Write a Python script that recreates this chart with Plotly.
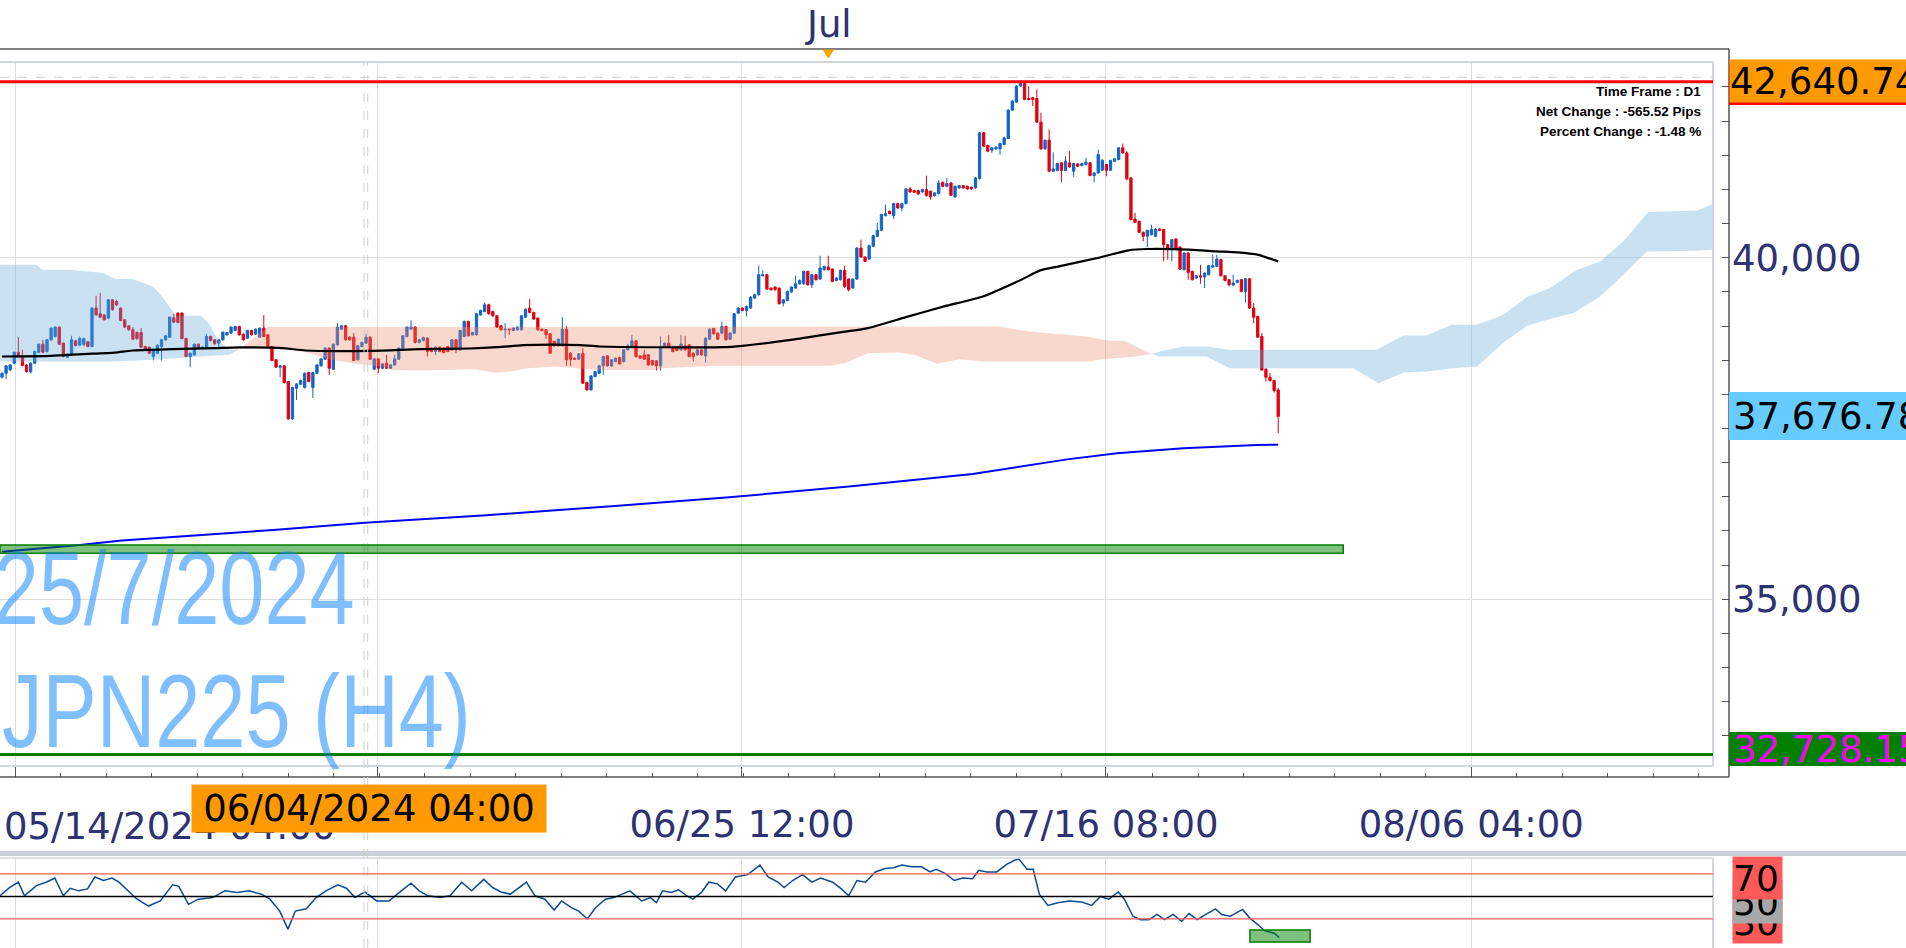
import json
import plotly.graph_objects as go

W, H = 1906, 948
def xp(px): return px / W
def yp(py): return 1 - py / H

# ---------------- data ----------------
open_ = [
38251, 38309, 38358, 38456, 38617, 38554, 38431, 38329, 38456, 38617,
38734, 38627, 38798, 38847, 38984, 38749, 38544, 38578, 38783, 38720,
38725, 38769, 38700, 39262, 39179, 39160, 39116, 39384, 39360, 39262,
39091, 39003, 38945, 38905, 38905, 38700, 38690, 38554, 38602, 38700,
38798, 38837, 39120, 39189, 39189, 38817, 38554, 38578, 38734, 38676,
38690, 38847, 38798, 38749, 38798, 38871, 38896, 38935, 38994, 38881,
38822, 38935, 38881, 38837, 38969, 38871, 38700, 38505, 38397, 38417,
38187, 37640, 38089, 38148, 38099, 38319, 38099, 38309, 38417, 38514,
38676, 38368, 38725, 38954, 39003, 38837, 38837, 38505, 38700, 38749,
38837, 38368, 38519, 38382, 38456, 38382, 38431, 38514, 38676, 38847,
38954, 38984, 38759, 38788, 38822, 38676, 38627, 38690, 38676, 38700,
38651, 38798, 38651, 38847, 39067, 38871, 38871, 39164, 39213, 39311,
39213, 39150, 39003, 38945, 38954, 38935, 38945, 38945, 39130, 39262,
39199, 39116, 38954, 38945, 38886, 38773, 38710, 38710, 38954, 38602,
38529, 38514, 38602, 38172, 38065, 38260, 38309,
38417, 38563, 38417, 38480, 38539, 38480, 38651, 38690, 38783, 38563,
38578, 38578, 38495, 38490, 38417, 38690, 38749, 38690, 38690, 38651,
38710, 38724, 38602, 38578, 38651, 38563, 38808, 38964, 38896, 38896,
38993, 38808, 38896, 39189, 39262, 39228, 39262, 39409, 39458, 39736,
39751, 39555, 39570, 39555, 39335, 39375, 39497, 39555, 39619, 39619,
39800, 39604, 39751, 39687, 39824, 39863, 39834, 39668, 39678, 39814,
39687, 39555, 39687, 40142, 40010, 39980, 40166, 40313, 40401, 40616,
40679, 40616, 40792, 40728, 40792, 41007, 40982, 40982, 40963, 40997,
40973, 40909, 40938, 41104, 41045, 41094, 40890, 41021, 41055, 41045,
41031, 41021, 41158, 41828, 41642, 41574, 41593, 41593, 41657, 41745,
42160, 42277, 42512, 42551, 42331, 42341, 42331, 41984, 41593, 41720,
41266, 41276, 41388, 41276, 41388, 41266, 41373, 41349, 41364, 41388,
41202, 41241, 41280, 41364, 41280, 41412, 41437, 41608, 41534, 41168,
40567, 40533, 40372, 40313, 40337, 40313, 40420, 40411, 40191, 40127,
40274, 40156, 39824, 40068, 39800, 39702,
39736, 39717, 39751, 39863, 39873, 39971, 39736, 39678, 39599, 39639,
39678, 39507, 39692, 39262, 39140, 38847, 38368, 38251, 38202, 38065,
]
high = [
38319, 38430, 38440, 38625, 38837, 38651, 38440, 38470, 38640, 38745,
38798, 38810, 38980, 38995, 38995, 38760, 38600, 38857, 38800, 38847,
38830, 38785, 39275, 39443, 39482, 39175, 39395, 39395, 39384, 39275,
39100, 39015, 38984, 38920, 38969, 38710, 38700, 38660, 38730, 38810,
38870, 39140, 39179, 39200, 39200, 38830, 38615, 38745, 38745, 38700,
38886, 38860, 38810, 38810, 38920, 38915, 38995, 39005, 39005, 38890,
38945, 38945, 38965, 38980, 39160, 38880, 38710, 38515, 38425, 38425,
38195, 38110, 38165, 38215, 38320, 38330, 38330, 38440, 38530, 38690,
38690, 38745, 39042, 39015, 39015, 38850, 38896, 38720, 38770, 38886,
38850, 38530, 38530, 38455, 38578, 38440, 38578, 38690, 38870, 38995,
39081, 38995, 38810, 38845, 38835, 38690, 38700, 38700, 38690, 38710,
38810, 38810, 38945, 39080, 39080, 38915, 39190, 39240, 39345, 39325,
39225, 39160, 39015, 39042, 38965, 38980, 38995, 39160, 39260, 39394,
39210, 39125, 38965, 38955, 38895, 38785, 38820, 39130, 39003, 38615,
38540, 38605, 38676, 38185, 38280, 38345, 38430,
38565, 38575, 38515, 38540, 38550, 38660, 38739, 38871, 38795, 38575,
38651, 38590, 38505, 38500, 38847, 38760, 38866, 38700, 38700, 38871,
38857, 38735, 38615, 38660, 38660, 38835, 38965, 38975, 38905, 39067,
39005, 38905, 39190, 39275, 39275, 39300, 39435, 39470, 39883, 39814,
39765, 39565, 39580, 39565, 39395, 39520, 39580, 39736, 39680, 39810,
39810, 39760, 39760, 40029, 39885, 40029, 39845, 39715, 39825, 39883,
39700, 39700, 40155, 40264, 40020, 40190, 40335, 40508, 40645, 40777,
40690, 40805, 40805, 40805, 41020, 41036, 40995, 40995, 41010, 41201,
40985, 40960, 41134, 41115, 41168, 41105, 41055, 41065, 41065, 41055,
41040, 41180, 41840, 41840, 41655, 41620, 41630, 41685, 41765, 42175,
42305, 42525, 42576, 42576, 42512, 42355, 42463, 42121, 41730, 41877,
41544, 41390, 41400, 41486, 41559, 41390, 41385, 41390, 41461, 41400,
41250, 41583, 41440, 41375, 41435, 41460, 41620, 41671, 41559, 41180,
40655, 40545, 40385, 40410, 40484, 40430, 40430, 40420, 40200, 40275,
40285, 40165, 40080, 40080, 39810, 39745,
39897, 39785, 39895, 40044, 40044, 39985, 39745, 39690, 39751, 39680,
39690, 39705, 39705, 39335, 39150, 38896, 38380, 38312, 38215, 38090,
]
low = [
38231, 38220, 38340, 38440, 38540, 38410, 38319, 38309, 38445, 38600,
38600, 38610, 38785, 38830, 38720, 38540, 38530, 38565, 38700, 38705,
38710, 38690, 38690, 39150, 39115, 39080, 39100, 39225, 39290, 39070,
38970, 38930, 38795, 38800, 38675, 38640, 38590, 38495, 38590, 38495,
38785, 38825, 39045, 39040, 38805, 38544, 38397, 38565, 38665, 38665,
38680, 38775, 38725, 38676, 38785, 38860, 38885, 38925, 38860, 38785,
38810, 38860, 38870, 38825, 38835, 38690, 38485, 38385, 38251, 38160,
37630, 37630, 37918, 38135, 38085, 38175, 37946, 38295, 38405, 38505,
38285, 38355, 38715, 38940, 38785, 38785, 38485, 38495, 38690, 38740,
38505, 38355, 38309, 38370, 38370, 38370, 38420, 38505, 38665, 38835,
38945, 38745, 38745, 38775, 38554, 38615, 38578, 38615, 38600, 38615,
38640, 38602, 38640, 38835, 38845, 38860, 38860, 39150, 39200, 39165,
39135, 38970, 38930, 38822, 38871, 38925, 38930, 38935, 39120, 39185,
39090, 38930, 38920, 38808, 38590, 38700, 38700, 38700, 38417, 38417,
38505, 38505, 38150, 38055, 38055, 38250, 38300,
38285, 38405, 38405, 38470, 38435, 38470, 38640, 38680, 38540, 38515,
38505, 38420, 38420, 38348, 38348, 38680, 38680, 38615, 38630, 38640,
38640, 38540, 38480, 38565, 38565, 38466, 38795, 38875, 38795, 38885,
38785, 38795, 38885, 39175, 39215, 39140, 39250, 39395, 39445, 39725,
39530, 39520, 39520, 39315, 39287, 39365, 39485, 39545, 39605, 39605,
39590, 39555, 39665, 39675, 39810, 39810, 39640, 39655, 39665, 39555,
39507, 39545, 39675, 40000, 39935, 39970, 40155, 40300, 40390, 40605,
40635, 40567, 40715, 40679, 40780, 40950, 40945, 40920, 40950, 40895,
40850, 40895, 40925, 41030, 41030, 40900, 40875, 41010, 41010, 40995,
40995, 41010, 41145, 41620, 41545, 41534, 41580, 41510, 41645, 41735,
42150, 42265, 42500, 42305, 42300, 42219, 41970, 41580, 41580, 41255,
41255, 41265, 41104, 41265, 41315, 41183, 41325, 41335, 41350, 41190,
41104, 41230, 41270, 41193, 41270, 41400, 41425, 41520, 41134, 40545,
40505, 40360, 40240, 40156, 40325, 40300, 40390, 39946, 39971, 39946,
40115, 39820, 39810, 39678, 39665, 39690,
39619, 39555, 39740, 39850, 39860, 39725, 39655, 39580, 39585, 39625,
39495, 39345, 39250, 39042, 38825, 38345, 38187, 38190, 38025, 37430,
]
close = [
38309, 38417, 38431, 38617, 38554, 38422, 38334, 38456, 38627, 38734,
38617, 38798, 38969, 38984, 38734, 38554, 38588, 38798, 38715, 38817,
38817, 38700, 39262, 39164, 39130, 39091, 39384, 39238, 39311, 39081,
38984, 38945, 38808, 38813, 38690, 38651, 38602, 38651, 38720, 38798,
38857, 39130, 39057, 39052, 38817, 38554, 38602, 38734, 38676, 38690,
38847, 38788, 38739, 38798, 38910, 38905, 38984, 38994, 38871, 38798,
38935, 38871, 38954, 38969, 38847, 38700, 38495, 38397, 38417, 38172,
37640, 38099, 38153, 38202, 38309, 38187, 38319, 38431, 38519, 38676,
38382, 38734, 38984, 39003, 38798, 38798, 38495, 38710, 38759, 38837,
38514, 38519, 38382, 38446, 38382, 38431, 38519, 38676, 38857, 38984,
38984, 38759, 38798, 38832, 38627, 38627, 38690, 38627, 38612, 38627,
38798, 38651, 38935, 39067, 38857, 38905, 39179, 39228, 39311, 39179,
39150, 38984, 38945, 38954, 38945, 38969, 38984, 39150, 39247, 39199,
39101, 38945, 38935, 38871, 38602, 38710, 38808, 38954, 38505, 38514,
38514, 38593, 38163, 38065, 38270, 38334, 38417,
38553, 38417, 38505, 38529, 38446, 38651, 38710, 38783, 38553, 38529,
38515, 38431, 38431, 38417, 38690, 38749, 38690, 38627, 38642, 38734,
38651, 38553, 38553, 38651, 38578, 38822, 38954, 38886, 38808, 38993,
38798, 38896, 39179, 39262, 39228, 39287, 39424, 39458, 39751, 39751,
39541, 39531, 39531, 39326, 39384, 39507, 39570, 39619, 39668, 39800,
39604, 39751, 39678, 39849, 39873, 39824, 39653, 39702, 39814, 39580,
39531, 39687, 40142, 40010, 39946, 40176, 40323, 40401, 40631, 40645,
40645, 40792, 40728, 40792, 41007, 40963, 40958, 40933, 40997, 40909,
40890, 40948, 41094, 41045, 41085, 40914, 41045, 41055, 41021, 41007,
41007, 41168, 41828, 41632, 41559, 41608, 41618, 41671, 41755, 42160,
42292, 42512, 42551, 42317, 42317, 42317, 41984, 41593, 41720, 41266,
41300, 41378, 41276, 41412, 41329, 41378, 41339, 41378, 41398, 41202,
41241, 41510, 41427, 41280, 41422, 41447, 41608, 41534, 41154, 40557,
40518, 40372, 40313, 40401, 40411, 40420, 40401, 40191, 40127, 40264,
40127, 39834, 40068, 39785, 39678, 39736,
39717, 39775, 39883, 39883, 39980, 39736, 39668, 39604, 39629, 39668,
39507, 39692, 39262, 39130, 38837, 38358, 38251, 38202, 38055, 37676.78,
]
bar_index = list(range(len(close)))

# moving averages (bar position, price)
ma_black_x = [0, 12, 19.6, 27.6, 31.8, 41.6, 52, 58, 68.7, 74.2, 90.3, 102.3, 114.4, 121.1, 127.4,
              134.4, 141.4, 146.2, 176.2, 181, 192.9, 202.4, 211.7, 221, 230.3, 239.8, 249.2,
              253.8, 258.4, 267.8, 275.4, 279.9, 290.2, 297, 302, 306.9, 312]
ma_black_y = [38554, 38563, 38588, 38612, 38642, 38661, 38676, 38686, 38676, 38642, 38637, 38661,
              38671, 38690, 38720, 38729, 38720, 38700, 38690, 38710, 38798, 38886, 38969, 39130,
              39287, 39433, 39678, 39814, 39873, 39995, 40108, 40127, 40118, 40093, 40078, 40044, 39946]
ma_blue_x = [0, 19, 29.3, 66.3, 88.7, 118.4, 148.2, 177.8, 207.7, 237.3, 260.4, 272.6, 288.8, 306.8, 312]
ma_blue_y = [35697, 35795, 35860, 36014, 36120, 36230, 36360, 36493, 36655, 36834, 37048, 37136,
             37210, 37259, 37262]

# ichimoku cloud edges
cloud1_top_x = [-0.5, 8.4, 9.8, 16.4, 24.8, 27.6, 31.8, 36.9, 38.8, 41.6, 42.5, 48.6, 50.5, 52.8, 55.6, 58]
cloud1_top_y = [39897, 39897, 39824, 39824, 39775, 39687, 39687, 39580, 39458, 39238, 39150, 39150,
                39042, 38798, 38651, 38660]
cloud1_bot_x = [-0.5, 27.6, 36.9, 42.5, 48.6, 55.6, 58]
cloud1_bot_y = [38480, 38480, 38505, 38529, 38554, 38578, 38660]
salmon_top_x = [58, 65, 243.5, 251, 265, 270.7, 274.4, 281]
salmon_top_y = [38660, 38984, 38993, 38920, 38847, 38783, 38783, 38590]
salmon_bot_x = [58, 65, 70.6, 74.4, 80, 86.5, 93.1, 95, 102.4, 115.6, 120.2, 124, 128.6, 135.2, 141.7,
                146.2, 160.2, 161.2, 174.3, 202.3, 206.1, 211.7, 219.2, 222.9, 228.6, 234.2, 239.8,
                266, 267.8, 277.2, 281]
salmon_bot_y = [38660, 38676, 38651, 38612, 38514, 38446, 38407, 38358, 38348, 38368, 38319, 38329,
                38382, 38407, 38382, 38358, 38358, 38383, 38417, 38417, 38459, 38602, 38612, 38578,
                38446, 38515, 38480, 38480, 38505, 38553, 38590]
cloud2_top_x = [281, 283.1, 288.8, 294.5, 300.2, 336.1, 342.6, 348.3, 354.4, 360.6, 367.1, 372.8,
                378.5, 384.6, 390.7, 396.4, 402.5, 414.4, 418.4]
cloud2_top_y = [38590, 38627, 38700, 38700, 38651, 38651, 38861, 38861, 39018, 39018, 39164, 39424,
                39556, 39809, 39946, 40239, 40670, 40690, 40791]
cloud2_bot_x = [281, 283.1, 294.5, 300.2, 330.4, 336.5, 342.6, 348.3, 354.8, 360.6, 367.1, 372.8,
                379.3, 384.2, 390.7, 396.4, 402.1, 414.4, 418.4]
cloud2_bot_y = [38590, 38553, 38553, 38383, 38383, 38163, 38319, 38333, 38383, 38407, 38759, 39003,
                39116, 39189, 39433, 39751, 40092, 40100, 40117]

# RSI (bar position, value)
rsi_x = [-0.5, 1.9, 4, 5.5, 8.4, 10.8, 12.9, 15, 16.7, 18.8, 20.9, 22.7, 24.8, 26.9, 28.6, 30.7, 32.8,
         35.8, 38.7, 41.7, 43.2, 45.6, 48, 51.5, 54.5, 57.5, 60.4, 63.4, 65.5, 67.9, 69.9, 71.7, 74.4,
         76.8, 79.2, 82.1, 84.2, 86.3, 88.7, 91.6, 94.6, 97.6, 100, 102, 104.1, 107.1, 109.5, 112.4,
         114.8, 117.8, 119.9, 122, 124.3, 128.2, 130.3, 132.7, 135, 136.8, 139.2, 141, 143.1, 145.1,
         147.5, 149.6, 151.7, 153.5, 156.4, 158.5, 160, 161.5, 163.6, 165.4, 167.4, 168.9, 171, 172.8,
         174.9, 176.9, 179.3, 182.3, 185.3, 187.3, 189.7, 191.2, 193.3, 195.7, 198, 200.1, 203.1,
         205.2, 207, 209, 211.1, 213.5, 215.9, 218, 220, 222.4, 224.8, 226.9, 228.4, 230.7, 232.8,
         234.9, 237.3, 238.8, 240.8, 243.2, 245.6, 247.7, 248.6, 250.6, 252.1, 253.6, 255.7, 258.1,
         261, 264, 266.4, 268.5, 270.6, 272.9, 274.4, 276.5, 278.3, 280.4, 282.4, 284.2, 286.3, 288.4,
         290.2, 292.2, 294.3, 296.7, 298.2, 300.3, 303.3, 305, 307.1, 308.6, 311, 312.2]
rsi_y = [50.6, 58, 62.7, 50.6, 59.7, 62.7, 66.4, 50.6, 57.3, 55, 56.7, 67.3, 64.2, 66.4, 62.7, 55, 48.2,
         41.5, 46, 60.3, 59, 43, 47.6, 49, 55, 53.6, 55, 52, 47.6, 37, 21, 37, 39, 49, 55, 60.3, 57.3,
         49, 54, 46, 46, 55, 61.8, 55, 50.6, 49, 50.6, 62.7, 55, 65.2, 58, 54, 52, 62.7, 50.6, 47.6,
         37.9, 46, 40, 37, 30, 40, 47.6, 49, 52, 55, 46, 49, 44.5, 55, 53.6, 56, 50.6, 47.6, 53.6,
         62.7, 61.2, 55, 67.3, 69.4, 77.9, 67.3, 62.7, 58, 64.2, 69.4, 62.7, 66.4, 62.7, 56.7, 50.6,
         64.2, 62.7, 71.8, 74.8, 75.5, 77.9, 76.4, 76.4, 71.8, 74.2, 70.3, 64.2, 66.4, 65.8, 73.3,
         71.8, 71.8, 78.5, 82.4, 83.3, 74.2, 74.2, 52, 42, 44.5, 46, 45, 42, 50, 47.6, 54, 47.6, 32.4,
         29.4, 29.4, 34, 29.4, 34, 27.9, 34.8, 29.4, 34, 39, 34, 32.4, 38.5, 31, 24.8, 19.7, 17.3, 13.6]
rsi_levels = [70, 50, 30]

# horizontal levels and zones
resistance_level = 42576
support_level = 32728.15
crosshair_price = 42640.74
last_price = 37676.78
zone_low, zone_high, zone_end_bar = 35673, 35795, 327.9
rsi_box = dict(x0=305.1, x1=319.8, y0=9.5, y1=20.2)
crosshair_bars = [88.5, 89.4]

# axis labels
x_tick_bars = [3.18, 91.9, 180.9, 269.9, 359.2]
x_tick_text = ["", "", "06/25 12:00", "07/16 08:00", "08/06 04:00"]
first_x_label = "05/14/2024 04:00"
crosshair_time_label = "06/04/2024 04:00"
month_bar, month_label = 202, "Jul"
y_tick_vals = [35000, 40000]
y_tick_text = ["35,000", "40,000"]
info_lines = ["Time Frame : D1", "Net Change : -565.52 Pips", "Percent Change : -1.48 %"]
watermark_date = "25/7/2024"
watermark_symbol = "JPN225 (H4)"

# ---------------- figure ----------------
NAVY = "#2e3172"
FONT = "DejaVu Sans"
BLUE_C = "#1464c8"
RED_C = "#e1000f"

fig = go.Figure()

fig.add_trace(go.Candlestick(
    x=bar_index, open=open_, high=high, low=low, close=close,
    increasing=dict(line=dict(color=BLUE_C, width=1), fillcolor=BLUE_C),
    decreasing=dict(line=dict(color=RED_C, width=1), fillcolor=RED_C),
    whiskerwidth=0, showlegend=False, hoverinfo="skip"))

def cloud(tx, ty, bx, by, color):
    return go.Scatter(x=tx + bx[::-1], y=ty + by[::-1], fill="toself", fillcolor=color,
                      mode="lines", line=dict(width=0), showlegend=False, hoverinfo="skip")

fig.add_trace(cloud(cloud1_top_x, cloud1_top_y, cloud1_bot_x, cloud1_bot_y, "rgba(100,170,215,0.35)"))
fig.add_trace(cloud(salmon_top_x, salmon_top_y, salmon_bot_x, salmon_bot_y, "rgba(235,140,110,0.35)"))
fig.add_trace(cloud(cloud2_top_x, cloud2_top_y, cloud2_bot_x, cloud2_bot_y, "rgba(100,170,215,0.35)"))

fig.add_trace(go.Scatter(x=ma_black_x, y=ma_black_y, mode="lines",
                         line=dict(color="#000000", width=2.2, shape="spline", smoothing=0.6),
                         showlegend=False, hoverinfo="skip"))
fig.add_trace(go.Scatter(x=ma_blue_x, y=ma_blue_y, mode="lines",
                         line=dict(color="#0000ff", width=2), showlegend=False, hoverinfo="skip"))

fig.add_trace(go.Scatter(x=rsi_x, y=rsi_y, mode="lines", xaxis="x2", yaxis="y2",
                         line=dict(color="#0d4a8f", width=1.5), showlegend=False, hoverinfo="skip"))

def P(ypx):  # price at pixel row
    return 40000 + (257.7 - ypx) * 14.637

x_range = [-0.49, 418.3]

fig.update_layout(
    width=W, height=H, margin=dict(l=0, r=0, t=0, b=0),
    paper_bgcolor="white", plot_bgcolor="white",
    boxgap=0.3, boxgroupgap=0.2,
    xaxis=dict(domain=[0, xp(1713)], range=x_range, anchor="free", position=yp(777),
               rangeslider=dict(visible=False), showline=False, zeroline=False, automargin=False,
               tickvals=x_tick_bars, ticktext=x_tick_text, ticks="inside", ticklen=11,
               tickcolor="#555555", showgrid=True, gridcolor="#dedede", gridwidth=1,
               tickfont=dict(family=FONT, size=37, color=NAVY), ticklabelstandoff=22,
               minor=dict(ticks="inside", ticklen=4, tick0=3.18, dtick=89/8, tickcolor="#555555",
                          showgrid=False)),
    yaxis=dict(domain=[yp(767), yp(62)], range=[P(767), P(62)], anchor="free", position=xp(1729),
               side="right", showline=False, zeroline=False, automargin=False,
               tickvals=y_tick_vals, ticktext=y_tick_text, ticks="inside", ticklen=7,
               tickcolor="#555555", showgrid=True, gridcolor="#dedede",
               tickfont=dict(family=FONT, size=37, color=NAVY), ticklabelstandoff=2,
               minor=dict(ticks="inside", ticklen=7, tick0=0, dtick=500, tickcolor="#555555")),
    xaxis2=dict(domain=[0, xp(1713)], range=x_range, anchor="y2", showticklabels=False,
                automargin=False,
                tickvals=x_tick_bars, ticks="", showgrid=True, gridcolor="#dedede", zeroline=False),
    yaxis2=dict(domain=[0, yp(858)], range=[4.2, 84.2], anchor="x2", showticklabels=False,
                automargin=False, showgrid=False, zeroline=False, ticks=""),
)

shapes = []
def rect_px(x0, y0, x1, y1, fill, line=None, lw=0):
    shapes.append(dict(type="rect", xref="paper", yref="paper", x0=xp(x0), x1=xp(x1),
                       y0=yp(y1), y1=yp(y0), fillcolor=fill,
                       line=dict(color=line or fill, width=lw)))
def line_px(x0, y0, x1, y1, color, width=1, dash="solid"):
    shapes.append(dict(type="line", xref="paper", yref="paper", x0=xp(x0), x1=xp(x1),
                       y0=yp(y0), y1=yp(y1), line=dict(color=color, width=width, dash=dash)))

# frames / axes lines
line_px(0, 62, 1713, 62, "#d2d7df", 2)
line_px(1713, 62, 1713, 766, "#d2d7df", 2)
line_px(0, 766, 1713, 766, "#d2d7df", 2)
line_px(0, 49, 1729, 49, "#555555", 1.5)
line_px(1729, 49, 1729, 777, "#555555", 1.5)
line_px(0, 777, 1729, 777, "#555555", 1.5)
rect_px(0, 851, 1906, 856, "#c9d0db")
line_px(0, 858, 1713, 858, "#d2d7df", 1.5)
line_px(1713, 858, 1713, 948, "#d2d7df", 2)

# crosshair
for cb in crosshair_bars:
    shapes.append(dict(type="line", xref="x", yref="paper", x0=cb, x1=cb, y0=0, y1=yp(62),
                       line=dict(color="#cfcfcf", width=1, dash="dash")))
shapes.append(dict(type="line", xref="paper", yref="y", x0=0, x1=xp(1713), y0=crosshair_price,
                   y1=crosshair_price, line=dict(color="#cfcfcf", width=1, dash="dash")))

# levels
shapes.append(dict(type="line", xref="paper", yref="y", x0=0, x1=xp(1713), y0=resistance_level,
                   y1=resistance_level, line=dict(color="#ff0000", width=3)))
shapes.append(dict(type="line", xref="paper", yref="y", x0=0, x1=xp(1713), y0=support_level,
                   y1=support_level, line=dict(color="#007a00", width=3)))
shapes.append(dict(type="rect", xref="x", yref="y", x0=x_range[0], x1=zone_end_bar, y0=zone_low,
                   y1=zone_high, fillcolor="rgba(0,128,0,0.5)", line=dict(color="#008000", width=1.5)))

# RSI levels
for lv, col, w in zip(rsi_levels, ["#ff5a5a", "#000000", "#ff5a5a"], [1.2, 1.5, 1.2]):
    shapes.append(dict(type="line", xref="paper", yref="y2", x0=0, x1=xp(1713), y0=lv, y1=lv,
                       line=dict(color=col, width=w)))
shapes.append(dict(type="rect", xref="x2", yref="y2", fillcolor="rgba(0,128,0,0.5)",
                   line=dict(color="#008000", width=1.5), **rsi_box))

# price label boxes
rect_px(1729, 63, 1906, 105, "#ff0000")
rect_px(1729, 392, 1906, 440, "#66ccff")
rect_px(1729, 732, 1906, 766, "#008000")

# month marker triangle on top axis
shapes.append(dict(type="path", xref="x", yref="paper",
                   path=f"M {month_bar-1.2},{yp(50)} L {month_bar+1.2},{yp(50)} L {month_bar},{yp(58)} Z",
                   fillcolor="#ffa500", line=dict(color="#ffa500", width=1)))

fig.update_layout(shapes=shapes)

ann = []
def text_px(x, y, text, size=37, color=NAVY, xanchor="left", family=FONT, **kw):
    ann.append(dict(x=xp(x), y=yp(y), xref="paper", yref="paper", text=text, showarrow=False,
                    xanchor=xanchor, yanchor="middle",
                    font=dict(family=family, size=size, color=color), **kw))

# watermark (condensed horizontally in the page script below)
WM_FAMILY = "Liberation Sans, Arial"
text_px(357, 588, watermark_date, size=104, color="rgba(0,128,255,0.5)", xanchor="right",
        family=WM_FAMILY)
text_px(0, 711, watermark_symbol, size=104, color="rgba(0,128,255,0.5)", xanchor="left",
        family=WM_FAMILY)

# top month label
ann.append(dict(x=month_bar, y=yp(24), xref="x", yref="paper", text=month_label, showarrow=False,
                xanchor="center", yanchor="middle", font=dict(family=FONT, size=37, color=NAVY)))

# info texts
for i, t in enumerate(info_lines):
    text_px(1703, 91 + 20.5 * i, "<b>" + t + "</b>", size=13.5, color="#000000", xanchor="right",
            family="Liberation Sans, Arial")

# x labels
text_px(2, 826, first_x_label)
ann.append(dict(x=xp(191), y=yp(784), xref="paper", yref="paper", text=crosshair_time_label,
                showarrow=False, xanchor="left", yanchor="top", bgcolor="#ff9900",
                width=354, height=47, borderpad=0, font=dict(family=FONT, size=37, color="#000000")))

# price labels
ann.append(dict(x=xp(1729), y=yp(59), xref="paper", yref="paper", text=f"{crosshair_price:,.2f}",
                showarrow=False, xanchor="left", yanchor="top", bgcolor="#ff9900", align="left",
                width=190, height=42, borderpad=0, font=dict(family=FONT, size=37, color="#000000")))
text_px(1731, 416, f"{last_price:,.2f}", color="#000000")
text_px(1731, 749, f"{support_level:,.2f}", color="#ff00ff")

# RSI labels (drawn bottom-up so upper boxes cover lower ones)
for lv, top, bg in [(30, 900, "#ff5a5a"), (50, 880, "#a8a8a8"), (70, 856, "#ff5a5a")]:
    ann.append(dict(x=xp(1732), y=yp(top), xref="paper", yref="paper", text=str(lv),
                    showarrow=False, xanchor="left", yanchor="top", bgcolor=bg, align="left",
                    width=49, height=42, borderpad=0,
                    font=dict(family=FONT, size=36, color="#000000")))

fig.update_layout(annotations=ann)

# page script: no body margin; watermark glyphs condensed like the original narrow face
post_js = """
document.body.style.margin = '0';
var wm = {date: %s, sym: %s};
document.querySelectorAll('text.annotation-text').forEach(function(t) {
  var s = t.textContent;
  if (s === wm.sym || s === wm.date) {
    t.style.transformBox = 'fill-box';
    t.style.transformOrigin = (s === wm.sym) ? '0%% 50%%' : '100%% 50%%';
    t.style.transform = 'scaleX(0.78)';
  }
});
""" % (json.dumps(watermark_date), json.dumps(watermark_symbol))

fig.write_html("out.html", post_script=post_js, config={"displayModeBar": False})
